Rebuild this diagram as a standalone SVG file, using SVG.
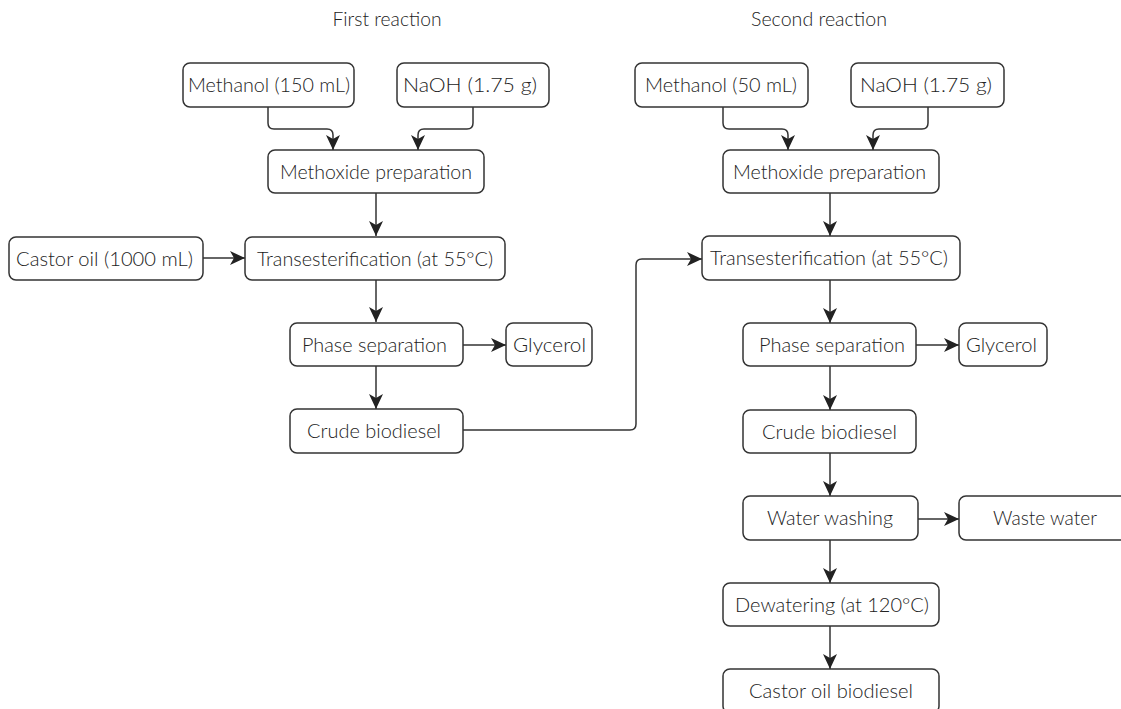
<svg xmlns="http://www.w3.org/2000/svg" width="1121" height="709" viewBox="0 0 1121 709">
<defs>
<style>
.box{fill:#fff;stroke:#333;stroke-width:1.5}
.t{font-family:Lato,"Liberation Sans",sans-serif;font-weight:300;font-size:19px;fill:#222;text-anchor:middle}
.c{fill:none;stroke:#333;stroke-width:1.5}
</style>
<marker id="ah" markerUnits="userSpaceOnUse" markerWidth="16" markerHeight="16" viewBox="0 0 16 16" refX="15" refY="8" orient="auto">
<path d="M0,1 L15,8 L0,15 L4,8 z" fill="#222"/>
</marker>
</defs>
<rect width="1121" height="709" fill="#fff"/>
<text class="t" x="387" y="26" textLength="109" lengthAdjust="spacingAndGlyphs">First reaction</text>
<text class="t" x="819" y="26" textLength="136" lengthAdjust="spacingAndGlyphs">Second reaction</text>

<g id="connectors">
<path class="c" marker-end="url(#ah)" d="M268,107 V123 Q268,129 274,129 H327 Q333,129 333,135 V150"/>
<path class="c" marker-end="url(#ah)" d="M473,107 V123 Q473,129 467,129 H424 Q418,129 418,135 V150"/>
<path class="c" marker-end="url(#ah)" d="M376,193 V236"/>
<path class="c" marker-end="url(#ah)" d="M203,258 H245"/>
<path class="c" marker-end="url(#ah)" d="M376,280 V322"/>
<path class="c" marker-end="url(#ah)" d="M463,345 H506"/>
<path class="c" marker-end="url(#ah)" d="M376,366 V409"/>
<path class="c" marker-end="url(#ah)" d="M463,430 H630 Q636,430 636,424 V265 Q636,259 642,259 H702"/>
<path class="c" marker-end="url(#ah)" d="M723,107 V123 Q723,129 729,129 H782 Q788,129 788,135 V150"/>
<path class="c" marker-end="url(#ah)" d="M928,107 V123 Q928,129 922,129 H879 Q873,129 873,135 V150"/>
<path class="c" marker-end="url(#ah)" d="M830,193 V236"/>
<path class="c" marker-end="url(#ah)" d="M830,280 V323"/>
<path class="c" marker-end="url(#ah)" d="M916,345 H959"/>
<path class="c" marker-end="url(#ah)" d="M830,366 V410"/>
<path class="c" marker-end="url(#ah)" d="M830,453 V496"/>
<path class="c" marker-end="url(#ah)" d="M918,519 H959"/>
<path class="c" marker-end="url(#ah)" d="M830,540 V583"/>
<path class="c" marker-end="url(#ah)" d="M830,626 V669"/>
</g>

<g id="methanol1"><rect class="box" x="183" y="63" width="171" height="44" rx="7"/><text class="t" x="269" y="92" textLength="162" lengthAdjust="spacingAndGlyphs">Methanol (150 mL)</text></g>
<g id="naoh1"><rect class="box" x="397" y="63" width="152" height="44" rx="7"/><text class="t" x="470" y="92" textLength="134" lengthAdjust="spacingAndGlyphs">NaOH (1.75 g)</text></g>
<g id="methoxide1"><rect class="box" x="268" y="150" width="216" height="43" rx="7"/><text class="t" x="376" y="179" textLength="192" lengthAdjust="spacingAndGlyphs">Methoxide preparation</text></g>
<g id="castor"><rect class="box" x="9" y="237" width="194" height="43" rx="7"/><text class="t" x="104.5" y="266" textLength="177" lengthAdjust="spacingAndGlyphs">Castor oil (1000 mL)</text></g>
<g id="trans1"><rect class="box" x="245" y="237" width="260" height="43" rx="7"/><text class="t" x="375" y="266" textLength="236" lengthAdjust="spacingAndGlyphs">Transesterification (at 55°C)</text></g>
<g id="phase1"><rect class="box" x="290" y="323" width="173" height="43" rx="7"/><text class="t" x="374.5" y="352" textLength="145" lengthAdjust="spacingAndGlyphs">Phase separation</text></g>
<g id="glycerol1"><rect class="box" x="506" y="323" width="86" height="43" rx="7"/><text class="t" x="549.5" y="352" textLength="73" lengthAdjust="spacingAndGlyphs">Glycerol</text></g>
<g id="crude1"><rect class="box" x="290" y="409" width="173" height="44" rx="7"/><text class="t" x="374" y="438" textLength="134" lengthAdjust="spacingAndGlyphs">Crude biodiesel</text></g>

<g id="methanol2"><rect class="box" x="635" y="63" width="173" height="44" rx="7"/><text class="t" x="721" y="92" textLength="152" lengthAdjust="spacingAndGlyphs">Methanol (50 mL)</text></g>
<g id="naoh2"><rect class="box" x="851" y="63" width="153" height="44" rx="7"/><text class="t" x="926" y="92" textLength="132" lengthAdjust="spacingAndGlyphs">NaOH (1.75 g)</text></g>
<g id="methoxide2"><rect class="box" x="723" y="150" width="216" height="43" rx="7"/><text class="t" x="829.5" y="179" textLength="193" lengthAdjust="spacingAndGlyphs">Methoxide preparation</text></g>
<g id="trans2"><rect class="box" x="702" y="236" width="258" height="44" rx="7"/><text class="t" x="829" y="265" textLength="238" lengthAdjust="spacingAndGlyphs">Transesterification (at 55°C)</text></g>
<g id="phase2"><rect class="box" x="743" y="323" width="173" height="43" rx="7"/><text class="t" x="832" y="352" textLength="146" lengthAdjust="spacingAndGlyphs">Phase separation</text></g>
<g id="glycerol2"><rect class="box" x="959" y="323" width="88" height="43" rx="7"/><text class="t" x="1001.5" y="352" textLength="71" lengthAdjust="spacingAndGlyphs">Glycerol</text></g>
<g id="crude2"><rect class="box" x="743" y="410" width="173" height="43" rx="7"/><text class="t" x="829.5" y="439" textLength="135" lengthAdjust="spacingAndGlyphs">Crude biodiesel</text></g>
<g id="washing"><rect class="box" x="743" y="496" width="175" height="44" rx="7"/><text class="t" x="830" y="525" textLength="126" lengthAdjust="spacingAndGlyphs">Water washing</text></g>
<g id="wastewater"><rect class="box" x="959" y="496" width="172" height="44" rx="7"/><text class="t" x="1045" y="525" textLength="104" lengthAdjust="spacingAndGlyphs">Waste water</text></g>
<g id="dewatering"><rect class="box" x="723" y="583" width="216" height="43" rx="7"/><text class="t" x="832" y="612" textLength="194" lengthAdjust="spacingAndGlyphs">Dewatering (at 120°C)</text></g>
<g id="biodiesel"><rect class="box" x="723" y="669" width="216" height="44" rx="7"/><text class="t" x="831" y="698" textLength="164" lengthAdjust="spacingAndGlyphs">Castor oil biodiesel</text></g>
</svg>
